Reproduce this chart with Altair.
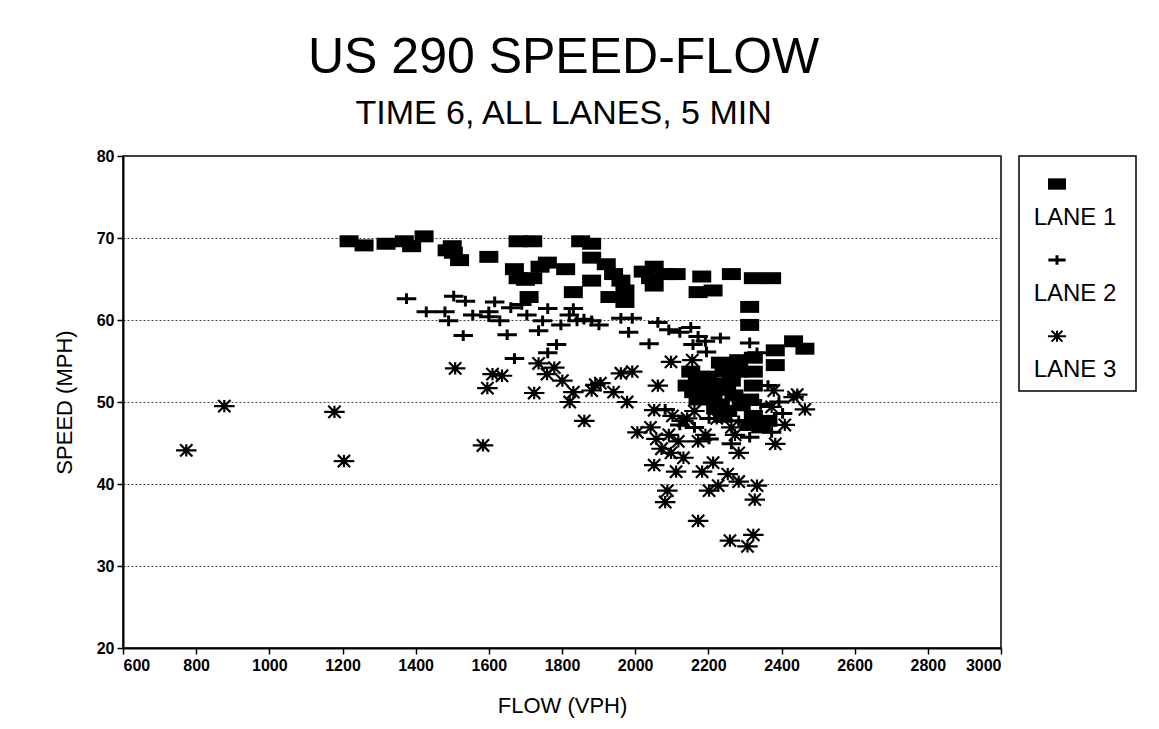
import altair as alt
import pandas as pd

# ---- data ----
lane1_flow = [1218, 1259, 1319, 1369, 1389, 1423, 1486, 1500, 1520, 1503, 1600, 1680, 1720,
              1670, 1680, 1720, 1710, 1760, 1810, 1831, 1851, 1881, 1881, 1921, 1941, 1881,
              1961, 1931, 1972, 1972, 2022, 2052, 2042, 2082, 2112, 2052, 2182, 2172, 2213,
              2263, 2323, 2373, 2313, 2313, 2283, 2323, 2383, 2433, 2464, 2383,
              2152, 2192, 2142, 2202, 2172, 2233, 2253, 2213, 2243, 2263, 2283, 2323, 2323,
              2313, 2323, 2313, 2343, 2363, 2233, 2263, 1740, 1700, 2200, 2180,
              2170, 2190, 2210, 2230, 2160, 2250, 2270, 2290, 2220, 2240]
lane1_speed = [69.6, 69.1, 69.3, 69.6, 69.0, 70.2, 68.5, 69.0, 67.3, 68.2, 67.7, 69.6, 69.6,
               66.2, 65.1, 65.1, 62.8, 67.0, 66.2, 63.4, 69.6, 69.3, 67.6, 66.8, 65.6, 64.8,
               64.8, 62.8, 63.6, 62.2, 65.9, 66.5, 65.1, 65.6, 65.6, 64.2, 65.3, 63.4, 63.6,
               65.6, 65.1, 65.1, 61.6, 59.4, 55.1, 55.4, 56.3, 57.4, 56.5, 54.5,
               53.7, 53.1, 52.0, 51.4, 50.3, 49.7, 48.9, 50.9, 53.7, 52.6, 53.7, 53.7, 52.0,
               50.3, 48.3, 47.2, 46.9, 47.7, 54.8, 54.3, 66.5, 64.9, 52.5, 51.0,
               52.8, 51.8, 50.6, 52.2, 51.2, 51.5, 50.8, 49.6, 49.2, 48.2]

lane2_flow = [1375, 1429, 1480, 1490, 1504, 1536, 1530, 1556, 1600, 1616, 1630, 1650, 1660,
              1690, 1704, 1736, 1761, 1747, 1797, 1831, 1841, 1881, 1901, 1961, 1992, 1982,
              2038, 1670, 1761, 1785, 2062, 2092, 2122, 2152, 2172, 2158, 2192, 2233, 2195,
              2313, 2333, 2202, 2263, 2313, 2373, 2403, 2393, 2363, 2122, 2202, 2082, 2162,
              2343, 2283, 1600, 1820, 1860]
lane2_speed = [62.6, 61.0, 61.0, 59.9, 62.9, 62.3, 58.1, 60.6, 61.0, 62.2, 59.9, 58.2, 61.5,
               61.9, 60.6, 58.7, 61.4, 59.9, 59.4, 61.4, 59.9, 59.9, 59.4, 60.2, 60.2, 58.5,
               57.1, 55.3, 56.0, 57.0, 59.7, 58.8, 58.5, 59.1, 58.0, 57.0, 57.4, 57.8, 56.1,
               57.2, 56.0, 45.5, 44.9, 45.7, 46.3, 48.6, 50.0, 52.0, 47.2, 48.0, 49.1, 46.9,
               49.7, 47.7, 60.4, 60.6, 60.1]

lane3_flow = [773, 877, 1178, 1204, 1508, 1584, 1596, 1610, 1636, 1724, 1736, 1759, 1779,
              1801, 1821, 1831, 1861, 1881, 1905, 1891, 1941, 1978, 1961, 1992, 2006, 2062,
              2098, 2156, 2052, 2042, 2058, 2072, 2052, 2088, 2082, 2098, 2112, 2092, 2118,
              2132, 2142, 2162, 2172, 2183, 2202, 2213, 2227, 2253, 2283, 2283, 2259, 2307,
              2323, 2333, 2327, 2383, 2409, 2433, 2443, 2464, 2379, 2373, 2273, 2263, 2223,
              2192, 2172, 2102, 2132]
lane3_speed = [44.1, 49.5, 48.8, 42.8, 54.1, 44.7, 51.7, 53.4, 53.2, 51.1, 54.7, 53.4, 54.2,
               52.6, 50.0, 51.2, 47.7, 51.4, 52.3, 52.1, 51.2, 50.0, 53.5, 53.7, 46.3, 52.0,
               54.9, 55.1, 49.0, 46.9, 45.5, 44.3, 42.3, 39.2, 37.8, 43.8, 41.5, 46.0, 45.2,
               43.2, 48.0, 48.9, 35.5, 41.5, 39.2, 42.6, 39.8, 41.2, 40.3, 43.8, 33.1, 32.4,
               33.8, 39.8, 38.1, 44.9, 47.2, 50.6, 50.9, 49.1, 51.4, 49.4, 46.0, 46.9, 48.0,
               46.0, 45.2, 48.3, 47.7]

lanes = ["LANE 1", "LANE 2", "LANE 3"]
x_ticks = list(range(600, 3001, 200))
y_ticks = list(range(20, 81, 10))

FONT = "Liberation Sans"
SQUARE = "M-1,-0.63L1,-0.63L1,0.63L-1,0.63Z"
PLUS = "M-1,0L1,0M0,-0.55L0,0.55"
STAR = "M-1,0L1,0M-0.6,-0.6L0.6,0.6M-0.6,0.6L0.6,-0.6M0,-0.6L0,0.6"

d1 = pd.DataFrame({"flow": lane1_flow, "speed": lane1_speed})
d2 = pd.DataFrame({"flow": lane2_flow, "speed": lane2_speed})
d3 = pd.DataFrame({"flow": lane3_flow, "speed": lane3_speed})

xenc = alt.X("flow:Q", scale=alt.Scale(domain=[600, 3000], nice=False),
             axis=alt.Axis(values=x_ticks, format="d", title="FLOW (VPH)", grid=False))
yenc = alt.Y("speed:Q", scale=alt.Scale(domain=[20, 80], nice=False),
             axis=alt.Axis(values=y_ticks, format="d", title="SPEED (MPH)", grid=True,
                           gridDash=[2, 2], gridColor="#444", gridWidth=1))

p1 = alt.Chart(d1).mark_point(shape=SQUARE, size=361, filled=True, color="black",
                              opacity=1).encode(x=xenc, y=yenc)
p2 = alt.Chart(d2).mark_point(shape=PLUS, size=380, filled=False, color="black",
                              strokeWidth=3, opacity=1).encode(x=xenc, y=yenc)
p3 = alt.Chart(d3).mark_point(shape=STAR, size=420, filled=False, color="black",
                              strokeWidth=2.2, opacity=1).encode(x=xenc, y=yenc)

main = alt.layer(p1, p2, p3).properties(width=878, height=492)

# legend panel
leg = pd.DataFrame({"lane": lanes, "row": [0, 1, 2]})
ly = alt.Y("row:Q", scale=alt.Scale(domain=[-0.368, 2.72], reverse=True), axis=None)
ls1 = alt.Chart(leg).transform_filter("datum.row == 0").mark_point(
    shape=SQUARE, size=324, filled=True, color="black", opacity=1
).encode(x=alt.value(38), y=ly)
ls2 = alt.Chart(leg).transform_filter("datum.row == 1").mark_point(
    shape=PLUS, size=300, filled=False, color="black", strokeWidth=3, opacity=1
).encode(x=alt.value(38), y=ly)
ls3 = alt.Chart(leg).transform_filter("datum.row == 2").mark_point(
    shape=STAR, size=330, filled=False, color="black", strokeWidth=2, opacity=1
).encode(x=alt.value(38), y=ly)
lt = alt.Chart(leg).mark_text(font=FONT, fontSize=24, dy=34, align="center",
                              baseline="middle", color="black").encode(
    x=alt.value(56), y=ly, text="lane:N")
legend = alt.layer(ls1, ls2, ls3, lt).properties(width=117, height=235)

chart = alt.hconcat(main, legend, spacing=15).properties(
    title=alt.TitleParams(
        text="US 290 SPEED-FLOW",
        subtitle="TIME 6, ALL LANES, 5 MIN",
        anchor="middle", dx=-31,
        font=FONT, fontSize=50, fontWeight="normal", color="black",
        subtitleFont=FONT, subtitleFontSize=34, subtitleColor="black",
        subtitlePadding=14, offset=16),
    padding={"left": 44, "top": 25, "right": 5, "bottom": 5},
).configure_view(stroke="black", strokeWidth=1.5).configure_axis(
    domainColor="black", domainWidth=2, tickColor="black", tickSize=6, tickWidth=1.5,
    labelFont=FONT, labelFontSize=16, labelFontWeight="bold", labelColor="black",
    titleFont=FONT, titleFontSize=22, titleFontWeight="normal", titleColor="black",
).configure_axisX(titlePadding=22, labelPadding=3).configure_axisY(
    titlePadding=20, labelPadding=3)

chart.save("out.html", embed_options={"renderer": "svg", "actions": False})
